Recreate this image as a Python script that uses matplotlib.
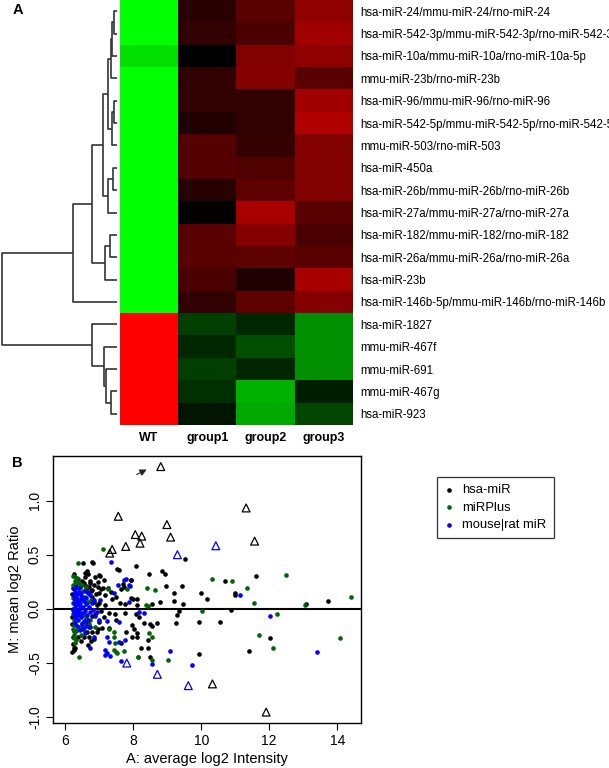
import numpy as np
import matplotlib
matplotlib.use("Agg")
import matplotlib.pyplot as plt
from matplotlib.colors import LinearSegmentedColormap

plt.rcParams['font.family'] = ['Liberation Sans', 'DejaVu Sans']

# ---------------- panel A data ----------------
mirnas = ["hsa-miR-24/mmu-miR-24/rno-miR-24",
          "hsa-miR-542-3p/mmu-miR-542-3p/rno-miR-542-3p",
          "hsa-miR-10a/mmu-miR-10a/rno-miR-10a-5p",
          "mmu-miR-23b/rno-miR-23b",
          "hsa-miR-96/mmu-miR-96/rno-miR-96",
          "hsa-miR-542-5p/mmu-miR-542-5p/rno-miR-542-5p",
          "mmu-miR-503/rno-miR-503",
          "hsa-miR-450a",
          "hsa-miR-26b/mmu-miR-26b/rno-miR-26b",
          "hsa-miR-27a/mmu-miR-27a/rno-miR-27a",
          "hsa-miR-182/mmu-miR-182/rno-miR-182",
          "hsa-miR-26a/mmu-miR-26a/rno-miR-26a",
          "hsa-miR-23b",
          "hsa-miR-146b-5p/mmu-miR-146b/rno-miR-146b",
          "hsa-miR-1827",
          "mmu-miR-467f",
          "mmu-miR-691",
          "mmu-miR-467g",
          "hsa-miR-923"]
groups = ["WT", "group1", "group2", "group3"]

# positive = red, negative = green
wt     = [-1, -1, -0.87, -1, -1, -1, -1, -1, -1, -1, -1, -1, -1, -1, 1, 1, 1, 1, 1]
group1 = [0.16, 0.19, 0.0, 0.19, 0.19, 0.13, 0.33, 0.33, 0.15, 0.02, 0.35, 0.35, 0.29, 0.19,
          -0.25, -0.15, -0.25, -0.19, -0.08]
group2 = [0.35, 0.29, 0.50, 0.52, 0.19, 0.19, 0.21, 0.31, 0.37, 0.66, 0.52, 0.37, 0.12, 0.37,
          -0.15, -0.31, -0.15, -0.69, -0.66]
group3 = [0.56, 0.63, 0.56, 0.35, 0.63, 0.69, 0.50, 0.50, 0.50, 0.35, 0.29, 0.35, 0.66, 0.52,
          -0.56, -0.56, -0.56, -0.12, -0.27]

# row dendrogram merges: (child a, child b, height); leaves 0..18, nodes numbered from 19
merges = [(0, 1, 2.7), (19, 2, 5.3), (20, 3, 6.3), (4, 5, 3.0), (22, 6, 5.3),
          (21, 23, 8.7), (7, 8, 3.7), (25, 9, 8.7), (24, 26, 13.7), (10, 11, 7.0),
          (28, 12, 12.0), (27, 29, 24.7), (30, 13, 43.7), (17, 18, 6.3), (16, 32, 11.5),
          (15, 33, 12.7), (14, 34, 24.7), (31, 35, 115.3)]

# ---------------- panel B data ----------------
hsa_x = [6.21, 6.22, 6.21, 6.23, 6.21, 6.26, 6.33, 6.44, 6.48, 6.55, 6.59, 6.62, 6.70, 6.73,
         6.68, 6.77, 6.80, 6.86, 6.90, 6.85, 6.93, 6.89, 6.80, 6.72, 6.63, 6.55, 6.45, 6.38,
         6.22, 6.24, 6.21, 6.30, 6.95, 6.98, 7.05, 7.00, 7.06, 6.92, 6.85, 6.75, 6.66,
         6.81, 6.64, 7.51, 8.07, 8.84, 8.45, 6.57, 6.27, 6.87, 7.02, 7.94, 6.39, 6.72, 6.61,
         6.97, 7.11, 7.36, 7.70, 7.64, 6.79, 6.99, 7.18, 7.38, 7.92, 8.00, 8.12, 7.62, 7.75,
         8.10, 8.56, 8.79, 6.99, 7.16, 8.17, 8.07, 7.77, 7.46, 7.28, 7.13, 6.64, 7.48, 7.97,
         8.49, 8.56, 7.28, 6.79, 6.97, 7.08, 7.80, 8.02, 8.10, 7.95, 6.69, 8.22, 8.42, 6.27,
         6.25, 8.49, 6.51, 6.79, 7.58, 7.74, 7.92, 7.25, 7.13, 7.48,
         9.52, 8.93, 8.96, 9.43, 9.20, 9.20, 9.47, 9.99, 10.17, 10.70, 10.98, 11.00, 11.62,
         9.35, 9.30, 9.25, 10.88, 9.93, 10.54, 12.01, 11.42, 9.93, 13.07, 13.74, 8.32, 8.44,
         7.63, 8.12, 8.71]
hsa_y = [0.14, 0.00, -0.08, 0.19, -0.14, -0.21, 0.23, 0.20, 0.26, 0.24, 0.29, 0.18, 0.20, 0.26,
         0.32, 0.16, 0.11, 0.06, 0.14, 0.22, 0.03, -0.05, -0.07, -0.17, -0.22, -0.26, -0.30, -0.26,
         -0.26, -0.33, -0.40, -0.36, 0.25, 0.31, 0.18, -0.12, -0.02, -0.22, -0.28, -0.30, -0.34,
         0.426, 0.349, 0.365, 0.395, 0.35, 0.318, 0.327, 0.318, 0.297, 0.303, 0.266, 0.272, 0.235, 0.214,
         0.205, 0.195, 0.157, 0.226, 0.18, 0.173, 0.142, 0.127, 0.087, 0.102, 0.087, 0.087, 0.056, 0.04,
         0.034, 0.04, 0.065, 0.05, 0.034, -0.074, -0.049, -0.043, -0.049, -0.043, -0.074, -0.13, -0.105, -0.148,
         -0.139, -0.158, -0.176, -0.212, -0.191, -0.182, -0.212, -0.191, -0.259, -0.259, -0.259, -0.367, -0.367, -0.367,
         -0.382, -0.45, 0.426, 0.432, 0.356, 0.20, 0.27, 0.196, 0.264, 0.11,
         0.46, 0.318, 0.21, 0.21, 0.148, 0.074, 0.04, 0.15, 0.09, 0.26, 0.148, 0.124, 0.30,
         -0.018, -0.058, -0.129, -0.015, -0.12, -0.126, -0.268, -0.389, -0.419, 0.044, 0.074, -0.135, -0.288,
         -0.319, -0.227, -0.135]

plus_x = [6.22, 6.24, 6.23, 6.25, 6.27, 6.24, 6.35, 6.30, 6.42, 6.50, 6.55, 6.46, 6.52, 6.60,
          6.22, 6.28, 6.40, 6.62, 6.70, 6.75, 6.66, 6.24, 6.35, 6.58, 6.47, 6.32,
          7.11, 6.38, 6.28, 6.32, 6.49, 7.25, 7.82, 8.37, 8.42, 6.74, 6.89, 6.54, 7.28, 7.43,
          7.43, 8.56, 8.47, 7.46, 7.43, 7.52, 6.30, 6.25, 6.27, 6.41, 8.14, 8.41, 8.63, 7.72,
          7.48, 10.32, 10.91, 11.36, 11.54, 12.48, 12.23, 11.70, 12.11, 10.02, 9.02, 8.56, 8.13,
          13.06, 14.40, 14.07]
plus_y = [0.05, 0.10, -0.05, -0.10, -0.15, -0.19, -0.20, -0.22, -0.17, -0.13, -0.06, 0.02, 0.16, 0.20,
          0.22, 0.26, 0.24, -0.09, -0.14, 0.08, 0.06, 0.30, 0.28, 0.11, -0.24, -0.29,
          0.55, 0.426, 0.297, 0.235, 0.22, 0.18, 0.183, 0.034, 0.025, -0.105, -0.173, -0.197, -0.191, -0.212,
          -0.259, -0.259, -0.228, -0.32, -0.382, -0.413, -0.32, -0.274, -0.243, -0.444, -0.45, 0.196, 0.172, -0.387,
          -0.40, 0.278, 0.256, 0.19, 0.056, 0.31, -0.049, -0.244, -0.367, -0.024, -0.479, -0.472, -0.448,
          0.03, 0.105, -0.268]

mouse_x = [6.25, 6.28, 6.30, 6.32, 6.34, 6.28, 6.31, 6.35, 6.30, 6.33, 6.27, 6.36, 6.38, 6.40,
           6.42, 6.38, 6.41, 6.44, 6.46, 6.47, 6.43, 6.36, 6.30, 6.26, 6.24, 6.26, 6.32, 6.39,
           6.45, 6.50, 6.52, 6.55, 6.50, 6.58, 6.61, 6.64, 6.56, 6.48, 6.36, 6.29, 6.62, 6.70,
           6.74, 6.68, 6.53, 6.60, 6.33, 6.40, 6.26, 6.72, 6.78, 6.82, 6.66, 6.44, 6.57,
           7.36, 7.78, 7.56, 7.87, 7.44, 6.30, 6.41, 6.67, 7.03, 6.84, 7.87, 8.17, 8.32, 6.94,
           6.87, 6.99, 7.23, 7.57, 6.69, 6.59, 7.23, 6.84, 7.77, 7.57, 7.28, 6.74, 7.18, 7.23,
           7.16, 7.33, 7.90, 7.74, 11.15, 12.01, 9.09, 9.74, 7.63, 8.56, 13.42]
mouse_y = [0.12, 0.10, 0.08, 0.06, 0.04, 0.02, 0.00, -0.02, -0.04, -0.06, -0.03, 0.10, 0.07, 0.03,
           0.00, -0.03, -0.06, 0.05, 0.09, 0.13, 0.15, 0.14, 0.15, 0.05, -0.01, -0.07, -0.09, -0.10,
           -0.08, -0.04, 0.02, 0.07, 0.11, -0.02, 0.04, -0.06, -0.11, -0.14, -0.16, -0.13, 0.10, 0.02,
           -0.03, -0.10, -0.18, -0.16, 0.20, 0.19, 0.18, 0.13, 0.05, -0.01, 0.15, -0.20, 0.16,
           0.435, 0.272, 0.22, 0.22, 0.142, 0.173, 0.157, 0.157, 0.08, 0.08, 0.065, -0.028, -0.037, -0.028,
           -0.068, -0.105, -0.114, -0.12, -0.173, -0.228, -0.259, -0.259, -0.29, -0.305, -0.305, -0.367, -0.382, -0.413,
           -0.428, -0.434, 0.209, 0.27, 0.127, -0.068, -0.395, -0.525, -0.488, -0.509, -0.40]

tri_black_x = [8.81, 7.56, 8.99, 8.06, 8.25, 9.10, 7.78, 7.38, 7.31, 8.20, 11.32, 11.57, 10.33, 11.91]
tri_black_y = [1.316, 0.856, 0.779, 0.687, 0.672, 0.663, 0.577, 0.549, 0.515, 0.607, 0.933, 0.626, -0.696, -0.957]
tri_blue_x = [9.30, 10.43, 7.81, 8.71, 9.62]
tri_blue_y = [0.50, 0.583, -0.503, -0.607, -0.712]

W, H = 609, 768
fig = plt.figure(figsize=(W / 100, H / 100), dpi=100)


def frac(left, top, right, bottom):
    return [left / W, 1 - bottom / H, (right - left) / W, (bottom - top) / H]


# ---- heatmap ----
cmap = LinearSegmentedColormap.from_list("rg", [(0, 1, 0), (0, 0, 0), (1, 0, 0)])
mat = np.array([wt, group1, group2, group3]).T
axh = fig.add_axes(frac(120, 0, 353, 425))
axh.imshow(mat, cmap=cmap, vmin=-1, vmax=1, aspect="auto", interpolation="nearest")
axh.set_xticks(range(len(groups)))
axh.set_xticklabels(groups, fontsize=9, fontweight="bold")
axh.yaxis.tick_right()
axh.set_yticks(range(len(mirnas)))
axh.set_yticklabels(mirnas, fontsize=8.3)
axh.tick_params(length=0)
axh.tick_params(axis="y", pad=5.5)
axh.tick_params(axis="x", pad=5)
for s in axh.spines.values():
    s.set_visible(False)

# ---- dendrogram ----
axd = fig.add_axes(frac(0, 0, 120, 425))
n = len(mirnas)
pos = {i: i for i in range(n)}
hgt = {i: 0.0 for i in range(n)}
for k, (a, b, h) in enumerate(merges):
    node = n + k
    axd.plot([hgt[a], h, h, hgt[b]], [pos[a], pos[a], pos[b], pos[b]],
             color="#333333", lw=1.2, solid_capstyle="butt")
    pos[node] = (pos[a] + pos[b]) / 2
    hgt[node] = h
axd.set_xlim(117, -3)
axd.set_ylim(n - 0.5, -0.5)
axd.axis("off")

fig.text(18 / W, 1 - 10 / H, "A", fontsize=10.5, fontweight="bold", ha="center", va="center")
fig.text(17 / W, 1 - 463 / H, "B", fontsize=10.5, fontweight="bold", ha="center", va="center")

# ---- MA plot ----
ax = fig.add_axes(frac(53, 456, 361, 723))
ax.axhline(0, color="black", lw=1.5, zorder=1)
ax.scatter(hsa_x, hsa_y, s=11, color="black", lw=0, label="hsa-miR", zorder=3)
ax.scatter(plus_x, plus_y, s=11, color="#006400", lw=0, label="miRPlus", zorder=3)
ax.scatter(mouse_x, mouse_y, s=11, color="#0000ff", lw=0, label="mouse|rat miR", zorder=3)
ax.scatter(tri_black_x, tri_black_y, s=32, marker="^", facecolors="none",
           edgecolors="black", lw=0.9, zorder=4)
ax.scatter(tri_blue_x, tri_blue_y, s=32, marker="^", facecolors="none",
           edgecolors="#0000ff", lw=0.9, zorder=4)
ax.annotate("", xy=(8.47, 1.30), xytext=(8.03, 1.232),
            arrowprops=dict(arrowstyle="-|>", color="#222222", lw=0.8, mutation_scale=10))
ax.set_xlim(5.64, 14.7)
ax.set_ylim(-1.058, 1.414)
ax.set_xticks([6, 8, 10, 12, 14])
ax.set_yticks([-1.0, -0.5, 0.0, 0.5, 1.0])
ax.set_yticklabels(["-1.0", "-0.5", "0.0", "0.5", "1.0"], rotation=90, va="center")
ax.tick_params(labelsize=10, length=5, width=0.8, direction="out", pad=3)
ax.set_xlabel("A: average log2 Intensity", fontsize=10.5, labelpad=3)
ax.set_ylabel("M: mean log2 Ratio", fontsize=10.5, labelpad=4)
for s in ax.spines.values():
    s.set_linewidth(1.0)

leg = ax.legend(loc="upper left", bbox_to_anchor=(437 / W, 1 - 477 / H),
                bbox_transform=fig.transFigure, fontsize=9.4, frameon=True,
                fancybox=False, handlelength=0.8, handletextpad=0.6,
                borderpad=0.55, labelspacing=0.4, markerscale=1.0, borderaxespad=0)
leg.get_frame().set_edgecolor("black")
leg.get_frame().set_linewidth(0.9)

fig.savefig("out.png", dpi=100)
